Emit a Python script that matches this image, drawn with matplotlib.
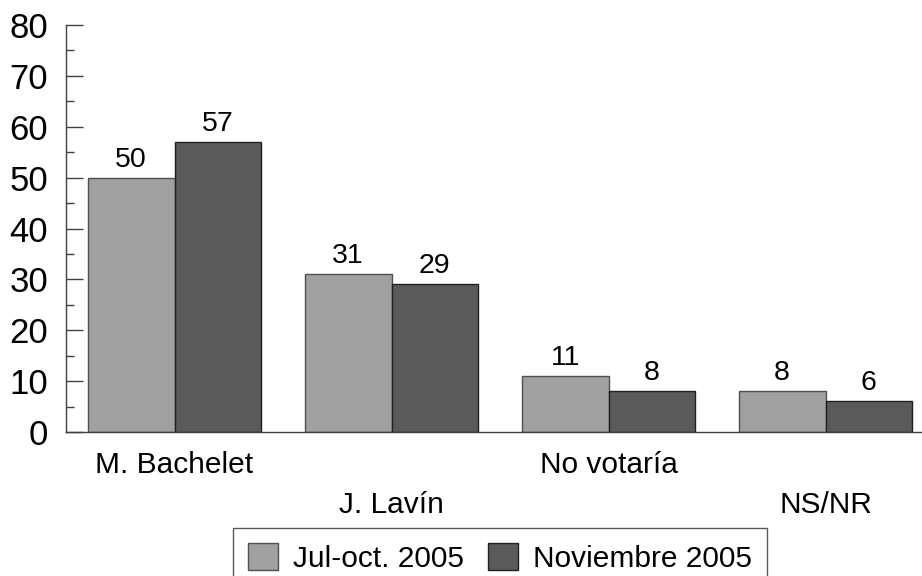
import numpy as np
from matplotlib import pyplot as plt
from matplotlib.ticker import MultipleLocator

categorias = ['M. Bachelet', 'J. Lavín', 'No votaría', 'NS/NR']
series = ['Jul-oct. 2005', 'Noviembre 2005']
jul_oct = [50, 31, 11, 8]
noviembre = [57, 29, 8, 6]
colores = ['#a0a0a0', '#5a5a5a']

plt.rcParams['font.family'] = ['Liberation Sans', 'DejaVu Sans']

fig = plt.figure(figsize=(9.22, 5.76), dpi=100)
ax = fig.add_axes([66/922, 0.25, 1 - 66/922, 1 - 0.25 - 25/576])

x = np.arange(len(categorias))
ancho = 0.4
b1 = ax.bar(x - ancho/2, jul_oct, ancho, color=colores[0], edgecolor='#505050', linewidth=1, label=series[0])
b2 = ax.bar(x + ancho/2, noviembre, ancho, color=colores[1], edgecolor='#202020', linewidth=1, label=series[1])

for barras in (b1, b2):
    for b in barras:
        ax.text(b.get_x() + b.get_width()/2, b.get_height() + 1, str(int(b.get_height())),
                ha='center', va='bottom', fontsize=20.5)

ax.set_xlim(-0.5, -0.5 + 856/217)
ax.set_ylim(0, 80)
ax.yaxis.set_major_locator(MultipleLocator(10))
ax.yaxis.set_minor_locator(MultipleLocator(5))
ax.tick_params(axis='y', which='major', direction='in', length=12, width=1, labelsize=25, pad=13, color='#404040')
ax.tick_params(axis='y', which='minor', direction='in', length=6, width=1, color='#404040')
ax.set_xticks([])

for s in ['top', 'right']:
    ax.spines[s].set_visible(False)
for s in ['left', 'bottom']:
    ax.spines[s].set_color('#404040')
    ax.spines[s].set_linewidth(1)

# etiquetas de categoria escalonadas
trans = ax.get_xaxis_transform()
for i, cat in enumerate(categorias):
    yy = -0.08 if i % 2 == 0 else -0.18
    ax.text(x[i], yy, cat, transform=trans, ha='center', va='center', fontsize=21.5)

fig.legend(handles=[b1, b2], labels=series, loc='upper center',
           bbox_to_anchor=(500/922, 1 - 528/576), ncol=2, fontsize=21.5,
           frameon=True, fancybox=False, edgecolor='#303030',
           handlelength=1.0, handleheight=1.0, handletextpad=0.5,
           columnspacing=0.8, borderpad=0.5, borderaxespad=0)

fig.savefig('out.png', dpi=100)
